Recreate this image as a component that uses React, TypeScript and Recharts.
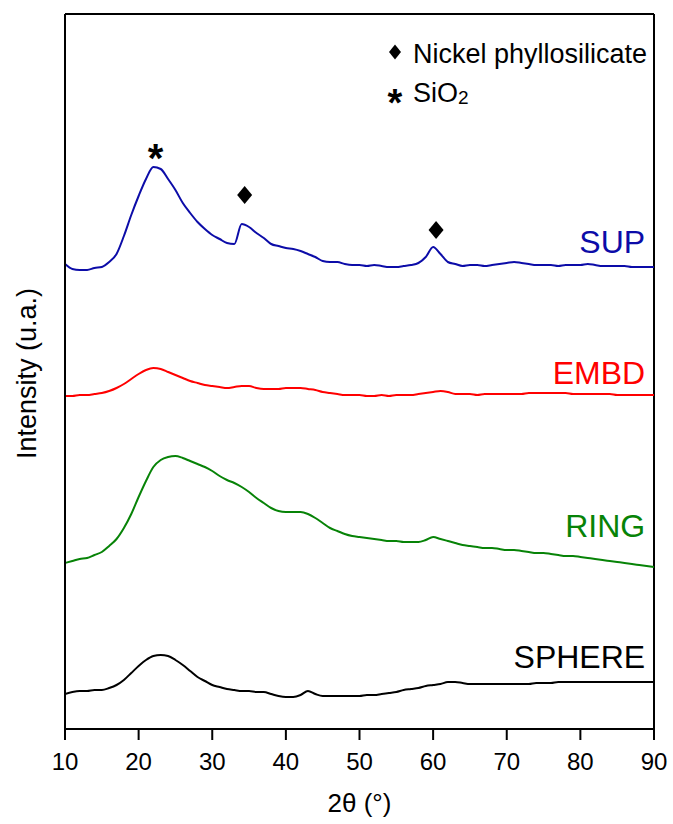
import { Customized, Label, Line, LineChart, ReferenceDot, ReferenceLine, XAxis, YAxis } from 'recharts';

// 2θ grid (°)
const twoTheta = [
  10, 11, 12, 13, 14, 15, 16, 17, 18, 19, 20, 21, 22, 23, 24, 25, 26, 27, 28, 29,
  30, 31, 32, 33, 34, 35, 36, 37, 38, 39, 40, 41, 42, 43, 44, 45, 46, 47, 48, 49,
  50, 51, 52, 53, 54, 55, 56, 57, 58, 59, 60, 61, 62, 63, 64, 65, 66, 67, 68, 69,
  70, 71, 72, 73, 74, 75, 76, 77, 78, 79, 80, 81, 82, 83, 84, 85, 86, 87, 88, 89, 90
];

// stacked patterns, intensity in arbitrary units (offsets included)
const sup = [
  465, 460, 459, 459, 461, 462, 467, 475, 493, 514, 533, 550, 562, 560, 550, 539, 526, 516, 507, 500,
  494, 490, 486, 485, 505, 502, 496, 491, 485, 483, 481, 480, 478, 475, 472, 468, 467, 467, 465, 464,
  464, 463, 464, 463, 462, 462, 463, 464, 466, 472, 482, 475, 467, 465, 463, 464, 464, 463, 464, 465,
  466, 467, 466, 465, 464, 464, 464, 463, 464, 464, 464, 465, 464, 463, 463, 463, 463, 462, 462, 462, 462
];
const embd = [
  333, 333, 334, 334, 335, 336, 338, 341, 345, 350, 355, 359, 361, 360, 357, 354, 351, 348, 346, 344,
  343, 342, 341, 342, 343, 343, 341, 340, 340, 340, 341, 341, 341, 340, 339, 337, 336, 335, 334, 334,
  334, 333, 333, 334, 333, 334, 334, 334, 335, 336, 337, 338, 337, 335, 335, 335, 334, 335, 335, 335,
  335, 335, 335, 336, 336, 336, 336, 336, 336, 335, 335, 335, 335, 335, 335, 334, 334, 334, 334, 334, 334
];
const ring = [
  166, 168, 170, 171, 174, 177, 183, 190, 201, 215, 232, 248, 262, 269, 272, 273, 271, 268, 265, 262,
  258, 253, 249, 246, 242, 237, 231, 226, 221, 218, 217, 217, 217, 215, 211, 206, 201, 198, 195, 193,
  192, 191, 190, 189, 188, 188, 187, 187, 187, 189, 192, 190, 188, 186, 184, 183, 182, 181, 181, 180,
  179, 179, 178, 177, 176, 176, 175, 174, 173, 173, 172, 171, 170, 169, 168, 167, 166, 165, 164, 163, 162
];
const sphere = [
  35, 37, 38, 38, 39, 39, 41, 44, 49, 56, 63, 69, 73, 74, 73, 69, 64, 58, 52, 48,
  44, 42, 40, 39, 38, 38, 37, 37, 35, 33, 32, 32, 34, 38, 35, 33, 33, 33, 33, 33,
  33, 34, 34, 35, 36, 37, 39, 40, 41, 43, 44, 45, 47, 47, 46, 45, 45, 45, 45, 45,
  45, 45, 45, 45, 46, 46, 46, 47, 47, 47, 47, 47, 47, 47, 47, 47, 47, 47, 47, 47, 47
];

const xTicks = [10, 20, 30, 40, 50, 60, 70, 80, 90];

// reflections marked on SUP
const phyllosilicatePeaks = [34.4, 60.4];
const silicaPeaks = [22.3];

const FONT = "'Liberation Sans', Arial, sans-serif";

const data = twoTheta.map((t, i) => ({ t, sup: sup[i], embd: embd[i], ring: ring[i], sphere: sphere[i] }));

const series = [
  { key: 'sup', name: 'SUP', color: '#0C0CA8', labelY: 488 },
  { key: 'embd', name: 'EMBD', color: '#FF0000', labelY: 357 },
  { key: 'ring', name: 'RING', color: '#078307', labelY: 204 },
  { key: 'sphere', name: 'SPHERE', color: '#000000', labelY: 73 }
];

function diamond(cx: number, cy: number, w: number, h: number) {
  return <polygon points={`${cx},${cy - h / 2} ${cx + w / 2},${cy} ${cx},${cy + h / 2} ${cx - w / 2},${cy}`} fill="#000" />;
}

function star(cx: number, cy: number, size: number) {
  return (
    <text x={cx} y={cy + size * 0.57} textAnchor="middle" fontSize={size} fontWeight="bold" fontFamily={FONT} fill="#000">
      *
    </text>
  );
}

function PhaseLegend() {
  return (
    <g>
      {diamond(395, 52, 12, 15)}
      <text x={413} y={63} fontSize={27} fontFamily={FONT} fill="#000">Nickel phyllosilicate</text>
      {star(395, 94, 38)}
      <text x={413} y={102} fontSize={27} fontFamily={FONT} fill="#000">
        SiO<tspan fontSize={19} dy={2}>2</tspan>
      </text>
    </g>
  );
}

export default function App() {
  const axisStyle = { stroke: '#000', strokeWidth: 2 };
  return (
    <div style={{ position: 'absolute', left: 0, top: 0, background: '#fff' }}>
      <LineChart width={673} height={824} data={data} margin={{ top: 14, right: 19, left: 15, bottom: 5 }}>
        <XAxis
          dataKey="t"
          type="number"
          domain={[10, 90]}
          allowDataOverflow
          ticks={xTicks}
          interval={0}
          height={90}
          tickSize={11}
          tickMargin={13}
          axisLine={axisStyle}
          tickLine={axisStyle}
          tick={{ fontSize: 24, fill: '#000', fontFamily: FONT }}
        >
          <Label
            content={(props: any) => {
              const vb = props.viewBox || { x: 65, y: 729, width: 589, height: 90 };
              return (
                <text x={vb.x + vb.width / 2} y={vb.y + 83} textAnchor="middle" fontSize={26} fontFamily={FONT} fill="#000">
                  2θ (°)
                </text>
              );
            }}
          />
        </XAxis>
        <YAxis type="number" domain={[0, 715]} allowDataOverflow width={50} tick={false} tickLine={false} axisLine={axisStyle}>
          <Label
            content={(props: any) => {
              const vb = props.viewBox || { x: 15, y: 14, width: 50, height: 715 };
              const x = vb.x + 21;
              const y = vb.y + vb.height / 2 + 2;
              return (
                <text x={x} y={y} transform={`rotate(-90, ${x}, ${y})`} textAnchor="middle" fontSize={27} fontFamily={FONT} fill="#000">
                  Intensity (u.a.)
                </text>
              );
            }}
          />
        </YAxis>

        {/* closed frame: top and right edges */}
        <ReferenceLine y={715} stroke="#000" strokeWidth={2} ifOverflow="visible" />
        <ReferenceLine x={90} stroke="#000" strokeWidth={2} ifOverflow="visible" />

        {series.map((s) => (
          <Line key={s.key} dataKey={s.key} type="monotone" stroke={s.color} strokeWidth={2} dot={false} isAnimationActive={false} />
        ))}

        {series.map((s) => (
          <ReferenceDot
            key={`lbl-${s.key}`}
            x={88.8}
            y={s.labelY}
            ifOverflow="visible"
            shape={(p: any) => (
              <text x={p.cx} y={p.cy + 11.5} textAnchor="end" fontSize={32} fontFamily={FONT} fill={s.color}>
                {s.name}
              </text>
            )}
          />
        ))}

        {phyllosilicatePeaks.map((t, i) => (
          <ReferenceDot key={`ni-${t}`} x={t} y={i === 0 ? 534 : 499} ifOverflow="visible" shape={(p: any) => diamond(p.cx, p.cy, 15, 18)} />
        ))}
        {silicaPeaks.map((t) => (
          <ReferenceDot key={`si-${t}`} x={t} y={580} ifOverflow="visible" shape={(p: any) => star(p.cx, p.cy, 40)} />
        ))}

        <Customized component={PhaseLegend} />
      </LineChart>
    </div>
  );
}
